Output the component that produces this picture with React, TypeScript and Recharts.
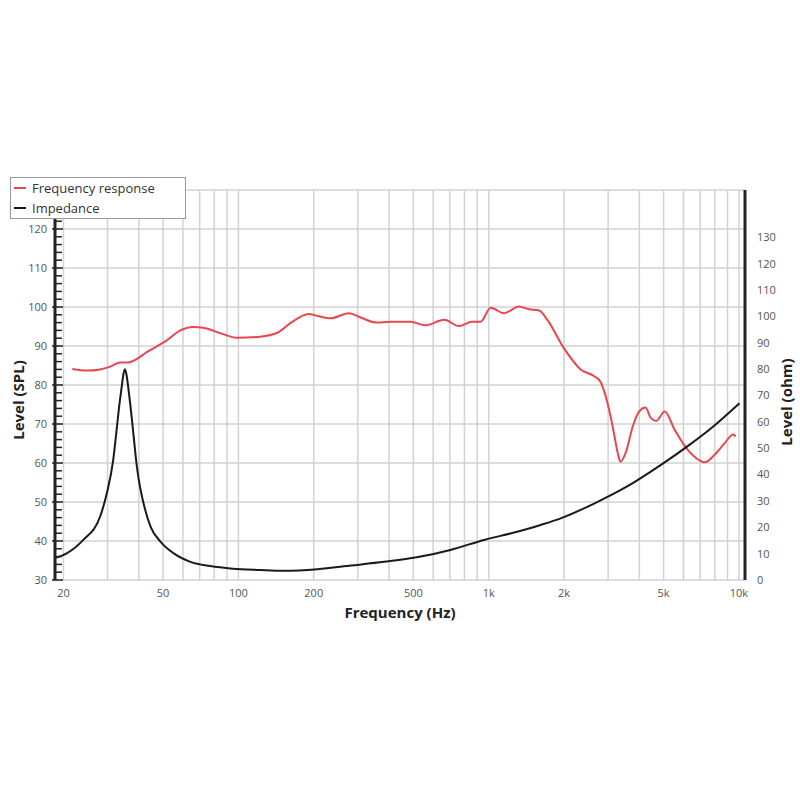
import { LineChart, Line, XAxis, YAxis, CartesianGrid } from 'recharts';

// [frequency Hz, level dB SPL]
const freqResponse: [number, number][] = [
  [21.7, 84.1], [24.9, 83.7], [28, 84.0], [30.8, 84.7], [33.7, 85.8], [36.3, 85.8],
  [38, 86.2], [43.2, 88.5], [51.9, 91.5], [58.6, 94.0], [66, 94.9], [72.4, 94.7],
  [84.6, 93.3], [99, 92.1], [122, 92.4], [143, 93.4], [161, 95.8], [191, 98.2],
  [207, 97.7], [234, 97.1], [276, 98.4], [308, 97.3], [357, 96.0], [404, 96.2],
  [488, 96.2], [559, 95.3], [664, 96.7], [762, 95.1], [858, 96.2], [928, 96.2],
  [1018, 99.8], [1152, 98.4], [1324, 100.1], [1450, 99.4], [1590, 99.1], [1716, 96.7],
  [2000, 89.4], [2330, 84.0], [2630, 82.3], [2800, 80.8], [2890, 78.5], [2980, 75.5],
  [3130, 69.3], [3280, 62.5], [3360, 60.3], [3540, 62.9], [3760, 69.3], [3990, 73.2],
  [4230, 74.2], [4450, 71.5], [4670, 70.8], [5050, 73.2], [5540, 68.5], [6260, 63.3],
  [6870, 60.9], [7300, 60.2], [7990, 62.1], [8770, 65.1], [9470, 67.3], [9700, 66.8],
];

// [frequency Hz, impedance ohm]
const impedance: [number, number][] = [
  [18.5, 8.3], [20.6, 10.1], [24, 15.2], [28, 24], [29.8, 32.9], [31.6, 45.5],
  [32.6, 56.9], [33.5, 67], [34.2, 73.5], [34.7, 78], [35.2, 80], [35.7, 78],
  [36.3, 73], [37, 66.5], [38, 56], [39.3, 43], [40, 38], [42.1, 27.8],
  [44.6, 20.2], [48.9, 14.5], [55.2, 10.1], [64.3, 6.9], [77.1, 5.3], [95, 4.3],
  [122, 3.8], [152, 3.5], [207, 4.1], [282, 5.5], [382, 6.9], [516, 8.6],
  [703, 11.4], [957, 15.2], [1300, 18.3], [1614, 20.9], [1940, 23.4], [2650, 29.1],
  [3560, 35.4], [4860, 43.6], [6260, 50.9], [7740, 57.6], [10050, 67.1],
];

const xTicks = [20, 50, 100, 200, 500, 1000, 2000, 5000, 10000];
const xGrid = [
  20, 30, 40, 50, 60, 70, 80, 90, 100, 200, 300, 400, 500, 600, 700, 800, 900,
  1000, 2000, 3000, 4000, 5000, 6000, 7000, 8000, 9000, 10000,
];
const splGrid = [30, 40, 50, 60, 70, 80, 90, 100, 110, 120, 130];
const splRuler = Array.from({ length: 51 }, (_, i) => 30 + i * 2);
const ohmTicks = [0, 10, 20, 30, 40, 50, 60, 70, 80, 90, 100, 110, 120, 130];

const frData = freqResponse.map(([f, v]) => ({ f, v }));
const impData = impedance.map(([f, v]) => ({ f, v }));

const FONT = '"Open Sans", sans-serif';
const RED = '#e8474f';

const fmtFreq = (v: number) => (v >= 1000 ? `${v / 1000}k` : `${v}`);

const SplTick = (props: any) => {
  const { x, y, payload } = props;
  const v = payload.value;
  const major = v % 10 === 0;
  return (
    <g>
      <line x1={major ? x - 3 : x} x2={x + (major ? 8 : 7)} y1={y} y2={y} stroke="#222" strokeWidth={1.5} />
      {major && v <= 120 && (
        <text x={x - 8} y={y} dy="0.35em" textAnchor="end" fill="#555" fontSize={11} fontFamily={FONT}>
          {v}
        </text>
      )}
    </g>
  );
};

const title: React.CSSProperties = {
  position: 'absolute',
  fontFamily: FONT,
  fontWeight: 700,
  fontSize: 15,
  color: '#222',
  whiteSpace: 'nowrap',
};

export default function App() {
  return (
    <div style={{ position: 'absolute', left: 0, top: 0, width: 800, height: 800, background: '#fff' }}>
      <LineChart width={800} height={800} margin={{ top: 190, right: 0, bottom: 190, left: 0 }}>
        <CartesianGrid
          yAxisId="spl"
          stroke="#d2d2d2"
          strokeWidth={1.5}
          horizontalValues={splGrid}
          verticalValues={xGrid}
        />
        <XAxis
          dataKey="f"
          type="number"
          scale="log"
          domain={[18.5, 10570]}
          allowDataOverflow
          ticks={xTicks}
          interval={0}
          tickFormatter={fmtFreq}
          axisLine={false}
          tickLine={false}
          tickSize={0}
          tickMargin={9}
          height={30}
          tick={{ fill: '#555', fontSize: 11, fontFamily: FONT }}
        />
        <YAxis
          yAxisId="spl"
          type="number"
          domain={[30, 130]}
          ticks={splRuler}
          interval={0}
          width={55}
          axisLine={{ stroke: '#222', strokeWidth: 3 }}
          tickLine={false}
          tickSize={0}
          tickMargin={0}
          tick={<SplTick />}
        />
        <YAxis
          yAxisId="ohm"
          orientation="right"
          type="number"
          domain={[0, 148]}
          ticks={ohmTicks}
          interval={0}
          width={55}
          axisLine={{ stroke: '#222', strokeWidth: 3 }}
          tickLine={false}
          tickSize={0}
          tickMargin={12}
          tick={{ fill: '#555', fontSize: 11, fontFamily: FONT }}
        />
        <Line
          yAxisId="spl"
          data={frData}
          dataKey="v"
          type="monotone"
          stroke={RED}
          strokeWidth={2}
          dot={false}
          activeDot={false}
          isAnimationActive={false}
        />
        <Line
          yAxisId="ohm"
          data={impData}
          dataKey="v"
          type="monotone"
          stroke="#1a1a1a"
          strokeWidth={2}
          dot={false}
          activeDot={false}
          isAnimationActive={false}
        />
      </LineChart>

      <div
        style={{
          position: 'absolute',
          left: 10,
          top: 177,
          width: 174,
          height: 40,
          border: '1px solid #999',
          background: '#fff',
          fontFamily: FONT,
          fontSize: 13,
          color: '#333',
        }}
      >
        {[
          { name: 'Frequency response', color: RED },
          { name: 'Impedance', color: '#1a1a1a' },
        ].map((item, i) => (
          <div key={item.name} style={{ position: 'absolute', left: 3, top: 1 + i * 20, height: 18, display: 'flex', alignItems: 'center' }}>
            <span style={{ display: 'inline-block', width: 12, height: 2, background: item.color, marginRight: 6 }} />
            <span>{item.name}</span>
          </div>
        ))}
      </div>

      <div style={{ ...title, left: 18, top: 400, transform: 'translate(-50%, -50%) rotate(-90deg)' }}>Level (SPL)</div>
      <div style={{ ...title, left: 786, top: 402, transform: 'translate(-50%, -50%) rotate(-90deg)' }}>Level (ohm)</div>
      <div style={{ ...title, left: 400, top: 612, transform: 'translate(-50%, -50%)' }}>Frequency (Hz)</div>
    </div>
  );
}
